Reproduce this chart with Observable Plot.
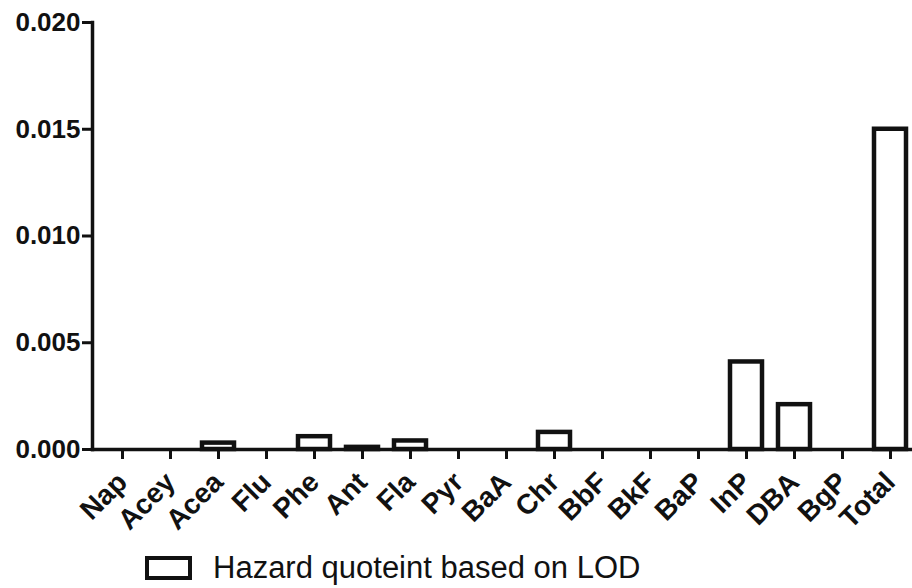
<!DOCTYPE html>
<html><head><meta charset="utf-8">
<script src="https://cdn.jsdelivr.net/npm/d3@7"></script>
<script src="https://cdn.jsdelivr.net/npm/@observablehq/plot@0.6"></script>
<style>
body{margin:0;background:#fff;font-family:"Liberation Sans",Arial,sans-serif;}
#wrap{position:relative;width:912px;height:588px;overflow:hidden;background:#fff;}
#legend{position:absolute;left:145px;top:550px;display:flex;align-items:center;font-size:31px;color:#111;white-space:nowrap;}
#legend .sw{display:inline-block;width:39px;height:16px;border:4px solid #111;margin-right:21px;background:#fff;}
</style></head><body>
<div id="wrap"><div id="chart"></div><div id="legend"><span class="sw"></span><span>Hazard quoteint based on LOD</span></div></div>
<script>
const categories = ["Nap","Acey","Acea","Flu","Phe","Ant","Fla","Pyr","BaA","Chr","BbF","BkF","BaP","InP","DBA","BgP","Total"];
const hazardQuotient = [0,0,0.0003,0,0.0006,0.0001,0.0004,0,0,0.0008,0,0,0,0.0041,0.0021,0,0.015];
const yTicks = [0,0.005,0.010,0.015,0.020];
const data = categories.map((c,i)=>({category:c, value:hazardQuotient[i]}));
const chart = Plot.plot({
  width:912, height:540, marginLeft:92, marginRight:0, marginTop:22, marginBottom:91,
  style:{fontFamily:"'Liberation Sans',Arial,sans-serif", fontSize:"26px", fontWeight:"bold", overflow:"visible", background:"white", color:"#111"},
  x:{domain:categories, range:[94,917.5], paddingInner:0.33, paddingOuter:0.165},
  y:{domain:[0,0.02]},
  marks:[
    Plot.barY(data,{x:"category", y:"value", filter:d=>d.value>0, fill:"white", stroke:"#111", strokeWidth:4.5}),
    Plot.frame({anchor:"left", strokeWidth:3.5}),
    Plot.frame({anchor:"bottom", strokeWidth:3.5}),
    Plot.axisY({ticks:yTicks, tickFormat:".3f", tickSize:10, tickPadding:2, strokeWidth:3, label:null}),
    Plot.axisX({tickSize:10, tickRotate:-45, tickPadding:18, strokeWidth:3, label:null, fontSize:28})
  ]
});
document.getElementById("chart").appendChild(chart);
</script>
</body></html>
